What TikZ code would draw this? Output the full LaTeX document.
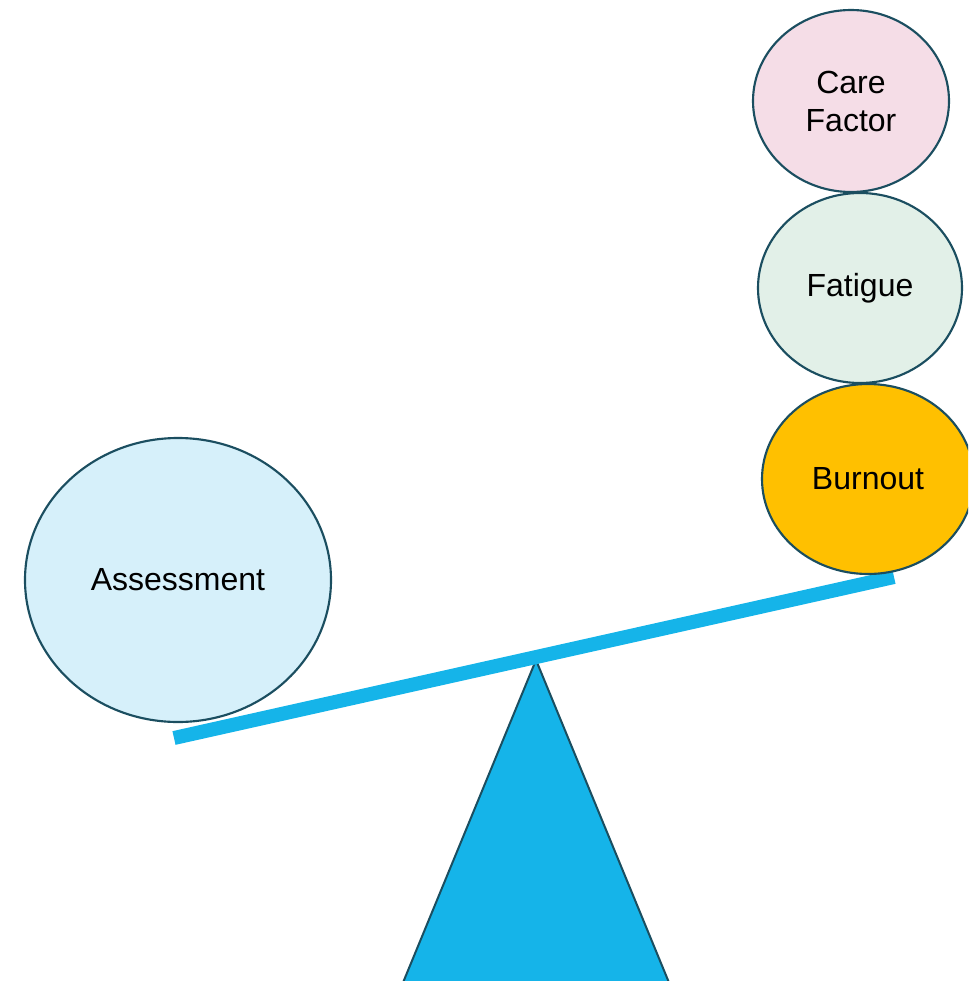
\documentclass[tikz,border=0pt]{standalone}
\usepackage{fontspec}
\setmainfont{Liberation Sans}
\usetikzlibrary{shapes.geometric}
\definecolor{rim}{HTML}{1B4E60}
\definecolor{beamblue}{HTML}{15B4E9}
\definecolor{carepink}{HTML}{F5DDE7}
\definecolor{fatiguegreen}{HTML}{E2F0E8}
\definecolor{burnoutgold}{HTML}{FFC000}
\definecolor{assessblue}{HTML}{D6F0FA}
\tikzset{
  weight/.style={ellipse,draw=rim,line width=1.6pt,inner sep=0pt,align=center,
    font=\fontsize{24}{28.5}\selectfont},
}
\begin{document}
\begin{tikzpicture}[x=0.75pt,y=-0.75pt]
    \useasboundingbox (0,0) rectangle (968,981);
    \clip (0,0) rectangle (968,981);
    \coordinate (P0_0) at (174,738);
    \coordinate (P0_1) at (894,577);
    \coordinate (T0_0) at (536,660);
    % fulcrum
    \filldraw [fill=beamblue,draw=rim,line width=1.5pt,line join=miter]
      (T0_0) -- (402,985) -- (670,985) -- cycle;
    % beam
    \draw [beamblue,line width=10.5pt] (P0_0) -- (P0_1);
    % weights
    \node (A0_0) [weight,fill=assessblue,minimum width=229.5pt,minimum height=213pt] at (178,580) {Assessment};
    \node (A1_0) [weight,fill=burnoutgold,minimum width=159pt,minimum height=142.5pt] at (868,479) {Burnout};
    \node (A1_1) [weight,fill=fatiguegreen,minimum width=153pt,minimum height=142.5pt] at (860,288) {Fatigue};
    \node (A1_2) [weight,fill=carepink,minimum width=147pt,minimum height=136.5pt] at (851,101) {Care\\Factor};
\end{tikzpicture}
\end{document}
